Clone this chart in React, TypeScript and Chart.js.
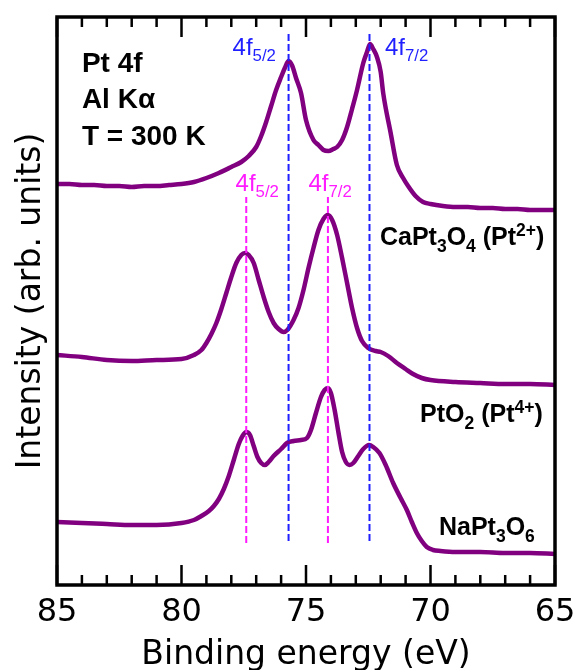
import React, { useEffect, useRef } from "react";
import { Chart, registerables } from "chart.js";

Chart.register(...registerables);

// ---- Data (binding energy in eV, intensity in arbitrary units incl. vertical offset) ----
const caEnergy = [85.0, 84.5, 84.0, 83.5, 83.0, 82.5, 82.0, 81.5, 81.0, 80.5, 80.0, 79.5, 79.0, 78.5, 78.0, 77.6, 77.3, 77.0, 76.8, 76.6, 76.4, 76.2, 76.0, 75.85, 75.7, 75.55, 75.4, 75.2, 75.0, 74.7, 74.5, 74.3, 74.1, 73.9, 73.75, 73.55, 73.35, 73.15, 72.95, 72.7, 72.55, 72.43, 72.3, 72.15, 72.0, 71.9, 71.6, 71.35, 71.1, 70.9, 70.6, 70.3, 70.0, 69.5, 69.0, 68.5, 68.0, 67.5, 67.0, 66.5, 66.0, 65.5, 65.0];
const caIntensity = [401, 401, 400, 400, 399, 399, 398, 399, 399, 400, 401, 403, 407, 412, 418, 423, 429, 438, 449, 463, 479, 495, 508, 517, 524, 519, 507, 492, 465, 445, 440, 435, 434, 436, 438, 445, 458, 476, 495, 522, 533, 541, 536, 528, 513, 492, 452, 420, 407, 399, 389, 383, 381, 379, 378, 378, 377, 377, 376, 376, 375, 375, 375];

const ptEnergy = [85.0, 84.0, 83.0, 82.0, 81.0, 80.0, 79.5, 79.2, 79.0, 78.8, 78.6, 78.4, 78.2, 78.0, 77.8, 77.6, 77.45, 77.3, 77.1, 76.9, 76.7, 76.5, 76.3, 76.1, 75.9, 75.75, 75.5, 75.3, 75.1, 74.9, 74.7, 74.5, 74.3, 74.12, 73.95, 73.75, 73.55, 73.35, 73.15, 72.95, 72.75, 72.5, 72.2, 72.0, 71.7, 71.35, 71.0, 70.7, 70.35, 70.0, 69.0, 68.0, 67.0, 66.0, 65.0];
const ptIntensity = [230, 228, 225, 224, 225, 226, 230, 235, 242, 251, 262, 276, 292, 308, 322, 330, 332, 330, 322, 305, 288, 273, 262, 256, 253, 255, 265, 277, 295, 317, 337, 355, 366, 370, 365, 350, 327, 302, 277, 257, 244, 237, 234, 233, 229, 222, 216, 211, 207, 205, 203, 202, 201, 201, 200];

const naEnergy = [85.0, 84.0, 83.0, 82.0, 81.0, 80.0, 79.5, 79.2, 78.9, 78.7, 78.5, 78.3, 78.1, 77.9, 77.7, 77.55, 77.4, 77.25, 77.1, 76.95, 76.8, 76.65, 76.5, 76.3, 76.0, 75.76, 75.5, 75.2, 74.96, 74.8, 74.6, 74.4, 74.25, 74.12, 74.0, 73.85, 73.7, 73.55, 73.4, 73.25, 73.1, 72.9, 72.7, 72.47, 72.3, 72.05, 71.8, 71.5, 71.2, 70.95, 70.75, 70.55, 70.35, 70.15, 69.9, 69.6, 69.0, 68.0, 67.0, 66.0, 65.0];
const naIntensity = [63, 62, 61, 60, 60, 62, 65, 69, 74, 79, 86, 96, 109, 125, 141, 149, 153, 150, 139, 128, 122, 120, 123, 129, 136, 142, 144, 145, 147, 155, 172, 188, 195, 197, 192, 175, 153, 133, 123, 120, 122, 129, 136, 140, 138, 132, 120, 102, 87, 75, 63, 52, 44, 38, 35, 34, 33, 33, 32, 32, 31];

// reference peak energies (eV) and extent of the dashed markers (arb. units)
const bluePeaks = [75.7, 72.45];
const blueSpan = [44, 552];
const magentaPeaks = [77.4, 74.12];
const magentaSpan = [42, 388];

const xTickValues = [85, 80, 75, 70, 65];

// ---- styling / annotation layout ----
const PURPLE = "#800080";
const BLUE = "#1f1fff";
const MAGENTA = "#ff1aff";
const SANS = "'Liberation Sans', Arial, sans-serif";
const DEJA = "'DejaVu Sans', sans-serif";

type Part = [string, "n" | "sub" | "sup"];
type Note = { parts: Part[]; x: number; y: number; size: number; bold: boolean; color: string };

const notes: Note[] = [
  { parts: [["Pt 4f", "n"]], x: 84.0, y: 513, size: 28, bold: true, color: "#000" },
  { parts: [["Al Kα", "n"]], x: 84.0, y: 477, size: 28, bold: true, color: "#000" },
  { parts: [["T = 300 K", "n"]], x: 84.0, y: 440, size: 28, bold: true, color: "#000" },
  { parts: [["4f", "n"], ["5/2", "sub"]], x: 77.95, y: 530, size: 24, bold: false, color: BLUE },
  { parts: [["4f", "n"], ["7/2", "sub"]], x: 71.83, y: 530, size: 24, bold: false, color: BLUE },
  { parts: [["4f", "n"], ["5/2", "sub"]], x: 77.83, y: 394, size: 24, bold: false, color: MAGENTA },
  { parts: [["4f", "n"], ["7/2", "sub"]], x: 74.9, y: 394, size: 24, bold: false, color: MAGENTA },
  { parts: [["CaPt", "n"], ["3", "sub"], ["O", "n"], ["4", "sub"], [" (Pt", "n"], ["2+", "sup"], [")", "n"]], x: 72.03, y: 340, size: 25, bold: true, color: "#000" },
  { parts: [["PtO", "n"], ["2", "sub"], [" (Pt", "n"], ["4+", "sup"], [")", "n"]], x: 70.42, y: 163, size: 25, bold: true, color: "#000" },
  { parts: [["NaPt", "n"], ["3", "sub"], ["O", "n"], ["6", "sub"]], x: 69.66, y: 50, size: 25, bold: true, color: "#000" },
];

function toPoints(xs: number[], ys: number[]) {
  return xs.map((x, i) => ({ x, y: ys[i] }));
}

function drawRich(ctx: CanvasRenderingContext2D, n: Note, px: number, py: number) {
  let cx = px;
  for (const [t, m] of n.parts) {
    const s = m === "n" ? n.size : n.size * 0.7;
    const dy = m === "sub" ? n.size * 0.27 : m === "sup" ? -n.size * 0.36 : 0;
    ctx.font = `${n.bold ? "bold " : ""}${s}px ${SANS}`;
    ctx.fillStyle = n.color;
    ctx.textAlign = "left";
    ctx.textBaseline = "alphabetic";
    ctx.fillText(t, cx, py + dy);
    cx += ctx.measureText(t).width;
  }
}

const framePlugin = {
  id: "frameAndNotes",
  afterDatasetsDraw(chart: any) {
    const { ctx, chartArea } = chart;
    const xs = chart.scales.x;
    const ys = chart.scales.y;
    ctx.save();
    ctx.strokeStyle = "#000";
    ctx.lineWidth = 3.5;
    ctx.strokeRect(chartArea.left, chartArea.top, chartArea.right - chartArea.left, chartArea.bottom - chartArea.top);
    ctx.lineWidth = 2.5;
    for (let v = 65; v <= 85; v++) {
      const px = xs.getPixelForValue(v);
      const len = v % 5 === 0 ? 20 : 10;
      ctx.beginPath();
      ctx.moveTo(px, chartArea.bottom);
      ctx.lineTo(px, chartArea.bottom - len);
      ctx.moveTo(px, chartArea.top);
      ctx.lineTo(px, chartArea.top + len);
      ctx.stroke();
    }
    for (const n of notes) {
      drawRich(ctx, n, xs.getPixelForValue(n.x), ys.getPixelForValue(n.y));
    }
    ctx.restore();
  },
};

export default function App() {
  const ref = useRef<HTMLCanvasElement | null>(null);
  useEffect(() => {
    if (!ref.current) return;
    const dashed = (peaks: number[], span: number[], color: string) =>
      peaks.map((p) => ({
        data: [{ x: p, y: span[0] }, { x: p, y: span[1] }],
        borderColor: color,
        borderWidth: 2,
        borderDash: [7, 3],
        pointRadius: 0,
        order: 0,
      }));
    const curve = (xs: number[], ys: number[]) => ({
      data: toPoints(xs, ys),
      borderColor: PURPLE,
      borderWidth: 4.5,
      pointRadius: 0,
      tension: 0.4,
      cubicInterpolationMode: "monotone" as const,
      order: 1,
    });
    const chart = new Chart(ref.current, {
      type: "line",
      data: {
        datasets: [
          ...dashed(bluePeaks, blueSpan, BLUE),
          ...dashed(magentaPeaks, magentaSpan, MAGENTA),
          curve(caEnergy, caIntensity),
          curve(ptEnergy, ptIntensity),
          curve(naEnergy, naIntensity),
        ] as any,
      },
      options: {
        animation: false,
        responsive: false,
        layout: { padding: { top: 17, right: 23, left: 0, bottom: 0 } },
        plugins: { legend: { display: false }, tooltip: { enabled: false } },
        scales: {
          x: {
            type: "linear",
            reverse: true,
            min: 65,
            max: 85,
            afterBuildTicks: (s: any) => {
              s.ticks = xTickValues.map((v) => ({ value: v }));
            },
            afterFit: (s: any) => {
              s.height = 85;
              s.paddingLeft = 0;
              s.paddingRight = 0;
            },
            ticks: {
              font: { family: DEJA, size: 32 },
              color: "#000",
              padding: 8,
              maxRotation: 0,
              autoSkip: false,
            },
            grid: { display: false, drawTicks: false },
            border: { display: false },
            title: {
              display: true,
              text: "Binding energy (eV)",
              color: "#000",
              font: { family: DEJA, size: 33, lineHeight: 0.8 },
              padding: { top: 4, bottom: 1 },
            },
          },
          y: {
            type: "linear",
            min: 0,
            max: 568,
            afterFit: (s: any) => {
              s.width = 57;
            },
            ticks: { display: false },
            grid: { display: false, drawTicks: false },
            border: { display: false },
            title: {
              display: true,
              text: "Intensity (arb. units)",
              color: "#000",
              font: { family: DEJA, size: 33, lineHeight: 1 },
              padding: { top: 14.5, bottom: 9.5 },
            },
          },
        },
      } as any,
      plugins: [framePlugin],
    });
    return () => chart.destroy();
  }, []);
  return (
    <div style={{ position: "absolute", left: 0, top: 0, width: 578, height: 670, background: "#fff" }}>
      <canvas ref={ref} width={578} height={670} />
    </div>
  );
}
